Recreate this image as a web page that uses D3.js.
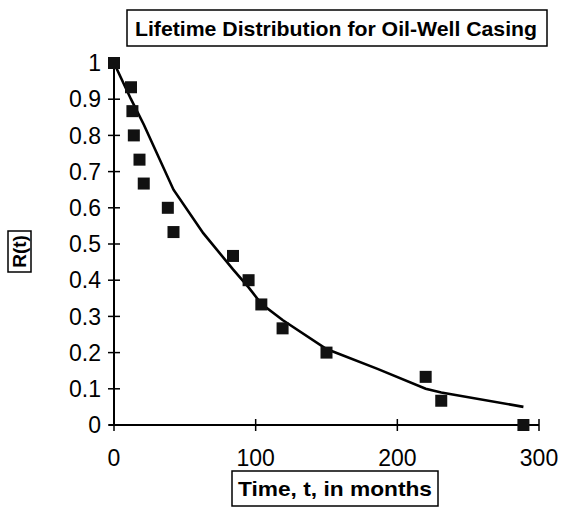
<!doctype html>
<html>
<head>
<script src="https://d3js.org/d3.v7.min.js"></script>
<style>
  body { margin: 0; background: #fff; }
  svg { display: block; font-family: "Liberation Sans", Arial, sans-serif; }
</style>
</head>
<body>
<svg width="573" height="510"></svg>
<script>
  // observed failure times (months) and empirical reliability
  var times = [0, 12, 13, 14, 18, 21, 38, 42, 84, 95, 104, 119, 150, 220, 231, 289];
  var reliability = [1, 0.933, 0.867, 0.8, 0.733, 0.667, 0.6, 0.533, 0.467, 0.4, 0.333, 0.267, 0.2, 0.133, 0.067, 0];

  // fitted curve
  var fitTimes = [0, 12, 21, 42, 63, 84, 95, 104, 119, 150, 186, 220, 231, 289];
  var fitValues = [1, 0.90, 0.83, 0.65, 0.53, 0.43, 0.38, 0.335, 0.29, 0.21, 0.155, 0.10, 0.09, 0.05];

  var xTicks = [0, 100, 200, 300];
  var yTicks = [0, 0.1, 0.2, 0.3, 0.4, 0.5, 0.6, 0.7, 0.8, 0.9, 1];

  var svg = d3.select("svg");

  var x = d3.scaleLinear().domain([0, 300]).range([114, 539]);
  var y = d3.scaleLinear().domain([0, 1]).range([425, 63]);

  // y axis
  svg.append("line")
     .attr("x1", x(0)).attr("x2", x(0))
     .attr("y1", y(0)).attr("y2", y(1))
     .attr("stroke", "#000").attr("stroke-width", 2);

  svg.selectAll(".ytick").data(yTicks).enter().append("line")
     .attr("x1", x(0) - 6).attr("x2", x(0) + 6)
     .attr("y1", function(d) { return y(d); })
     .attr("y2", function(d) { return y(d); })
     .attr("stroke", "#000").attr("stroke-width", 1.5);

  svg.selectAll(".ylab").data(yTicks).enter().append("text")
     .attr("x", 101)
     .attr("y", function(d) { return y(d); })
     .attr("dy", "0.36em")
     .attr("text-anchor", "end")
     .attr("font-size", 23)
     .text(function(d) { return d; });

  // x axis
  svg.append("line")
     .attr("x1", x(0) - 5).attr("x2", x(300))
     .attr("y1", y(0)).attr("y2", y(0))
     .attr("stroke", "#000").attr("stroke-width", 2);

  svg.selectAll(".xtick").data(xTicks).enter().append("line")
     .attr("x1", function(d) { return x(d); })
     .attr("x2", function(d) { return x(d); })
     .attr("y1", y(0) - 6).attr("y2", y(0) + 6)
     .attr("stroke", "#000").attr("stroke-width", 1.5);

  svg.selectAll(".xlab").data(xTicks).enter().append("text")
     .attr("x", function(d) { return x(d); })
     .attr("y", 466)
     .attr("text-anchor", "middle")
     .attr("font-size", 23)
     .text(function(d) { return d; });

  // fitted line
  var line = d3.line()
     .x(function(d, i) { return x(fitTimes[i]); })
     .y(function(d) { return y(d); });

  svg.append("path")
     .attr("d", line(fitValues))
     .attr("fill", "none")
     .attr("stroke", "#000")
     .attr("stroke-width", 2.6);

  // data squares
  svg.selectAll(".pt").data(reliability).enter().append("rect")
     .attr("x", function(d, i) { return x(times[i]) - 6; })
     .attr("y", function(d) { return y(d) - 6; })
     .attr("width", 12).attr("height", 12)
     .attr("fill", "#111");

  // title box
  svg.append("rect")
     .attr("x", 127).attr("y", 10).attr("width", 420).attr("height", 36)
     .attr("fill", "none").attr("stroke", "#000").attr("stroke-width", 1.5);
  svg.append("text")
     .attr("x", 135).attr("y", 36)
     .attr("font-size", 21).attr("font-weight", "bold")
     .attr("textLength", 402).attr("lengthAdjust", "spacingAndGlyphs")
     .text("Lifetime Distribution for Oil-Well Casing");

  // x label box
  svg.append("rect")
     .attr("x", 232).attr("y", 471).attr("width", 206).attr("height", 35)
     .attr("fill", "none").attr("stroke", "#000").attr("stroke-width", 1.5);
  svg.append("text")
     .attr("x", 238).attr("y", 496)
     .attr("font-size", 21).attr("font-weight", "bold")
     .attr("textLength", 194).attr("lengthAdjust", "spacingAndGlyphs")
     .text("Time, t, in months");

  // y label box
  svg.append("rect")
     .attr("x", 8).attr("y", 231).attr("width", 23).attr("height", 41)
     .attr("fill", "none").attr("stroke", "#000").attr("stroke-width", 1.5);
  svg.append("text")
     .attr("transform", "translate(26,251.5) rotate(-90)")
     .attr("text-anchor", "middle")
     .attr("font-size", 19).attr("font-weight", "bold")
     .text("R(t)");
</script>
</body>
</html>
